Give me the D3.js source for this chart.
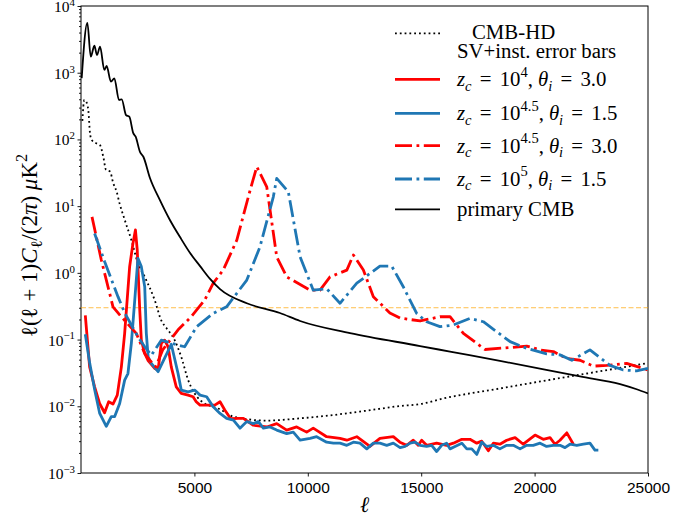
<!DOCTYPE html>
<html>
<head>
<meta charset="utf-8">
<script src="https://cdn.jsdelivr.net/npm/d3@7"></script>
<style>
  body { margin: 0; background: #fff; }
  svg.vis { display: block; font-family: "Liberation Serif", "DejaVu Serif", serif; }
</style>
</head>
<body>
<svg class="vis" width="687" height="518"></svg>
<script>
// values: [ell, l(l+1)C_l/(2pi) in muK^2]
const primary_cmb = [[30,830],[280,5600],[430,1740],[590,2540],[705,1840],[840,2450],[1030,1100],[1130,1260],[1320,733],[1470,822],[1675,390],[1795,398],[1985,232],[2130,219],[2305,124],[2410,110],[2600,65],[2750,55],[3040,26.4],[3480,12.3],[3920,6.2],[4365,3.44],[4810,1.98],[5250,1.26],[5690,0.81],[6130,0.57],[7310,0.35],[8770,0.25],[9660,0.19],[11860,0.125],[14950,0.08],[16270,0.066],[18470,0.048],[22000,0.028],[23770,0.0215],[24500,0.018],[25000,0.0156]];

const cmbhd_err = [[60,190],[146,390],[230,367],[322,275],[397,124],[472,98],[692,87],[838,82],[983,55],[1102,35],[1279,33],[1424,22],[1573,16.4],[1700,11],[1930,6.2],[2220,3.1],[2510,1.4],[2810,0.87],[3250,0.39],[3550,0.19],[3760,0.15],[4130,0.098],[4420,0.055],[4720,0.025],[5250,0.0124],[6190,0.0088],[6720,0.0070],[8190,0.0061],[9660,0.0066],[11130,0.0074],[12600,0.0086],[14070,0.0101],[14950,0.0108],[15980,0.0131],[18470,0.0185],[22300,0.031],[24940,0.044]];

const zc4_th3 = [[190,0.23],[380,0.039],[600,0.0196],[820,0.011],[1040,0.008],[1220,0.0117],[1410,0.0108],[1600,0.0147],[1780,0.039],[1925,0.124],[2145,1.24],[2290,2.75],[2400,4.4],[2480,2.2],[2590,0.28],[2660,0.098],[2810,0.062],[2950,0.049],[3250,0.037],[3400,0.035],[3540,0.088],[3690,0.098],[3840,0.078],[3980,0.039],[4200,0.0196],[4420,0.0156],[4720,0.0147],[4940,0.0139],[5080,0.0117],[5250,0.0104],[5600,0.0104],[5900,0.0104],[6130,0.0117],[6340,0.0088],[6600,0.0065],[6920,0.0066],[7160,0.0066],[7600,0.0052],[8190,0.0049],[8630,0.0055],[9070,0.0044],[9510,0.0049],[9950,0.0041],[10240,0.0047],[10830,0.0035],[11420,0.0033],[11720,0.0031],[12160,0.0035],[12740,0.0025],[13180,0.0033],[13770,0.0035],[14060,0.0029],[14360,0.0026],[14650,0.0031],[14870,0.0026],[15020,0.0031],[15240,0.0026],[15680,0.0028],[16120,0.0026],[16420,0.0028],[16790,0.0032],[17150,0.0032],[17450,0.0028],[17670,0.0030],[17960,0.00215],[18180,0.0028],[18470,0.0027],[18770,0.0031],[19140,0.0034],[19500,0.0027],[20020,0.0037],[20380,0.0032],[20680,0.0034],[20900,0.0027],[21120,0.0031],[21420,0.0040],[21710,0.0027]];

const zc45_th15 = [[190,0.12],[385,0.044],[605,0.0175],[825,0.0078],[1115,0.0050],[1335,0.0070],[1485,0.0070],[1705,0.011],[1925,0.0247],[2070,0.031],[2220,0.088],[2370,0.39],[2510,1.65],[2660,1.24],[2810,0.62],[2880,0.124],[2960,0.055],[3100,0.044],[3400,0.033],[3980,0.085],[4280,0.031],[4420,0.0175],[4720,0.0165],[5010,0.0175],[5250,0.0147],[5540,0.0139],[5830,0.0098],[6130,0.0078],[6420,0.0066],[6720,0.0062],[7010,0.0047],[7310,0.0059],[7600,0.0055],[7820,0.0059],[8040,0.0047],[8330,0.0049],[8630,0.0044],[9070,0.0039],[9360,0.0041],[9660,0.0031],[10100,0.0033],[10390,0.0035],[10830,0.0029],[11130,0.0028],[11420,0.0028],[11720,0.0026],[12010,0.0029],[12300,0.0028],[12600,0.0023],[12890,0.0028],[13180,0.0028],[13480,0.0026],[13770,0.0028],[14070,0.0024],[14290,0.0025],[14510,0.0028],[14730,0.0029],[14950,0.0026],[15240,0.0025],[15460,0.0026],[15680,0.0021],[15900,0.0026],[16120,0.0028],[16270,0.0023],[16490,0.0025],[16790,0.0028],[17010,0.0023],[17230,0.0023],[17450,0.0019],[17670,0.0029],[17890,0.0025],[18180,0.0026],[18470,0.0023],[18770,0.0026],[19060,0.0026],[19360,0.0023],[19650,0.0026],[19940,0.0026],[20240,0.0028],[20530,0.0025],[20820,0.0026],[21120,0.0026],[21340,0.0024],[21560,0.0027],[21860,0.0026],[22150,0.0027],[22440,0.0028],[22660,0.0022],[22810,0.0022]];

const zc45_th3 = [[485,6.9],[896,1.56],[1411,0.31],[1778,0.22],[2438,0.124],[2808,0.062],[3030,0.049],[3300,0.039],[3600,0.07],[4280,0.14],[4860,0.22],[5450,0.39],[5830,0.70],[6270,1.1],[6870,3.1],[7450,17],[7750,39],[8190,19.5],[8630,1.74],[9070,0.87],[10100,0.55],[10540,0.55],[10980,0.87],[11720,1.1],[12010,1.85],[12450,1.1],[12890,0.44],[13620,0.25],[14070,0.21],[14950,0.19],[15830,0.22],[16270,0.22],[16860,0.124],[17810,0.071],[18920,0.076],[19650,0.080],[20240,0.070],[20830,0.066],[21410,0.052],[22000,0.049],[22590,0.040],[23180,0.041],[24060,0.044],[25000,0.035]];

const zc5_th15 = [[600,3.9],[1040,1.48],[1630,0.44],[1930,0.25],[2510,0.11],[2810,0.078],[3100,0.058],[3540,0.098],[3980,0.088],[4570,0.078],[5100,0.156],[5830,0.247],[6420,0.31],[7310,0.78],[7890,2.45],[8480,13.8],[8630,26],[9140,16.4],[9660,1.74],[10240,0.55],[10830,0.58],[11420,0.35],[12160,0.70],[13180,1.26],[13700,1.26],[14210,0.62],[14800,0.247],[15240,0.185],[15830,0.156],[16410,0.165],[17150,0.208],[17740,0.185],[18920,0.093],[19650,0.074],[20530,0.061],[21120,0.059],[21640,0.049],[22440,0.070],[23320,0.041],[23910,0.035],[24500,0.034],[25000,0.037]];

const ref_level = 0.3;

const x_domain = [0, 25000];
const y_domain = [1e-3, 1e4];
const x_ticks = [5000, 10000, 15000, 20000, 25000];
const y_exponents = [-3, -2, -1, 0, 1, 2, 3, 4];

// legend labels as [text, italic, sub/sup, extra space before]
const label_cmbhd = ["CMB-HD", "SV+inst. error bars"];
const label_zc4_th3 = [["z",1],["c",1,"sub"],[" =",0,null,3],[" 10",0,null,3],["4",0,"sup"],[",",0],["θ",1,null,5],["i",1,"sub"],[" =",0,null,3],[" 3.0",0,null,3]];
const label_zc45_th15 = [["z",1],["c",1,"sub"],[" =",0,null,3],[" 10",0,null,3],["4.5",0,"sup"],[",",0],["θ",1,null,5],["i",1,"sub"],[" =",0,null,3],[" 1.5",0,null,3]];
const label_zc45_th3 = [["z",1],["c",1,"sub"],[" =",0,null,3],[" 10",0,null,3],["4.5",0,"sup"],[",",0],["θ",1,null,5],["i",1,"sub"],[" =",0,null,3],[" 3.0",0,null,3]];
const label_zc5_th15 = [["z",1],["c",1,"sub"],[" =",0,null,3],[" 10",0,null,3],["5",0,"sup"],[",",0],["θ",1,null,5],["i",1,"sub"],[" =",0,null,3],[" 1.5",0,null,3]];
const label_primary = [["primary CMB",0]];

const vis = {

    refs: { svg: "svg.vis" },

    sels: { svg: null },

    dims: { left: 81, right: 648, top: 6, bottom: 473 },

    scales: { x: null, y: null },

    styles: {
        cmbhd:     { color: "#000", width: 1.8, dash: "1.8,3" },
        zc4_th3:   { color: "#ff0000", width: 2.8, dash: null },
        zc45_th15: { color: "#1f77b4", width: 2.8, dash: null },
        zc45_th3:  { color: "#ff0000", width: 2.8, dash: "17,4.5,2.8,4.5" },
        zc5_th15:  { color: "#1f77b4", width: 2.8, dash: "17,4.5,2.8,4.5" },
        primary:   { color: "#000", width: 1.8, dash: null }
    },

    init: function() {
        vis.f.generates_refs();
        vis.f.set_scales();
        vis.draw.axes();
        vis.draw.lines();
        vis.draw.legend();
        vis.draw.labels();
    },

    f: {

        generates_refs: function() {
            vis.sels.svg = d3.select(vis.refs.svg);
        },

        set_scales: function() {
            vis.scales.x = d3.scaleLinear().domain(x_domain).range([vis.dims.left, vis.dims.right]);
            vis.scales.y = d3.scaleLog().domain(y_domain).range([vis.dims.bottom, vis.dims.top]);
        },

        // writes a mathtext-like label into a <text> element
        math_text: function(sel, parts, size, sup) {
            let shift = 0;
            let up = sup || 0.45;
            parts.forEach(p => {
                let [t, it, pos, dx] = p;
                let target = pos === "sub" ? size * 0.22 : pos === "sup" ? -size * up : 0;
                sel.append("tspan")
                  .attr("dx", dx || 0)
                  .attr("dy", (target - shift).toFixed(2))
                  .style("font-style", it ? "italic" : "normal")
                  .style("font-size", (pos ? size * 0.7 : size) + "px")
                  .text(t);
                shift = target;
            });
        }
    },

    draw: {

        axes: function() {
            let svg = vis.sels.svg;
            let x = vis.scales.x, y = vis.scales.y, d = vis.dims;

            // x axis
            let gx = svg.append("g")
              .attr("transform", `translate(0,${d.bottom})`)
              .call(d3.axisBottom(x).tickValues(x_ticks).tickSize(3.5).tickPadding(5).tickFormat(d3.format("d")));
            gx.select(".domain").remove();
            gx.selectAll("text").style("font-size", "15.5px").attr("fill", "#000");

            // y minor ticks
            let minors = [];
            for (let e = -3; e < 4; e++) for (let k = 2; k < 10; k++) minors.push(k * Math.pow(10, e));
            let gm = svg.append("g")
              .attr("transform", `translate(${d.left},0)`)
              .call(d3.axisLeft(y).tickValues(minors).tickSize(2).tickFormat(""));
            gm.select(".domain").remove();

            // y major ticks
            let gy = svg.append("g")
              .attr("transform", `translate(${d.left},0)`)
              .call(d3.axisLeft(y).tickValues(y_exponents.map(e => Math.pow(10, e))).tickSize(3.5).tickFormat(""));
            gy.select(".domain").remove();

            y_exponents.forEach(e => {
                let t = svg.append("text")
                  .attr("x", d.left - 6)
                  .attr("y", y(Math.pow(10, e)) + 6)
                  .attr("text-anchor", "end");
                vis.f.math_text(t, [["10", 0], [e < 0 ? "\u2212" + (-e) : String(e), 0, "sup"]], 15.5, 0.4);
            });

            svg.selectAll(".tick line").attr("stroke", "#000").attr("stroke-width", 0.9);

            // frame
            svg.append("rect")
              .attr("x", d.left).attr("y", d.top)
              .attr("width", d.right - d.left).attr("height", d.bottom - d.top)
              .attr("fill", "none").attr("stroke", "#000").attr("stroke-width", 1);

            svg.append("clipPath").attr("id", "plotclip")
              .append("rect")
              .attr("x", d.left).attr("y", d.top)
              .attr("width", d.right - d.left).attr("height", d.bottom - d.top);
        },

        lines: function() {
            let svg = vis.sels.svg;
            let x = vis.scales.x, y = vis.scales.y;
            let plot = svg.append("g").attr("clip-path", "url(#plotclip)");

            let smooth = d3.line().x(p => x(p[0])).y(p => y(p[1])).curve(d3.curveMonotoneX);
            let straight = d3.line().x(p => x(p[0])).y(p => y(p[1]));

            // reference level
            plot.append("line")
              .attr("x1", x(x_domain[0])).attr("x2", x(x_domain[1]))
              .attr("y1", y(ref_level)).attr("y2", y(ref_level))
              .attr("stroke", "orange").attr("stroke-opacity", 0.7)
              .attr("stroke-width", 1).attr("stroke-dasharray", "5,2.5");

            let series = [
                ["cmbhd", cmbhd_err, smooth],
                ["zc4_th3", zc4_th3, straight],
                ["zc45_th15", zc45_th15, straight],
                ["zc45_th3", zc45_th3, straight],
                ["zc5_th15", zc5_th15, straight],
                ["primary", primary_cmb, smooth]
            ];

            series.forEach(s => {
                let st = vis.styles[s[0]];
                plot.append("path")
                  .datum(s[1])
                  .attr("d", s[2])
                  .attr("fill", "none")
                  .attr("stroke", st.color)
                  .attr("stroke-width", st.width)
                  .attr("stroke-dasharray", st.dash)
                  .attr("stroke-linejoin", "round");
            });
        },

        legend: function() {
            let svg = vis.sels.svg;
            let g = svg.append("g");
            let x0 = 395, x1 = 440, tx = 457, size = 20.8;

            let entries = [
                ["cmbhd", 33.3, null],
                ["zc4_th3", 79.3, label_zc4_th3],
                ["zc45_th15", 113.3, label_zc45_th15],
                ["zc45_th3", 145.7, label_zc45_th3],
                ["zc5_th15", 179, label_zc5_th15],
                ["primary", 209.3, label_primary]
            ];

            entries.forEach(e => {
                let st = vis.styles[e[0]];
                g.append("line")
                  .attr("x1", x0).attr("x2", x1).attr("y1", e[1]).attr("y2", e[1])
                  .attr("stroke", st.color).attr("stroke-width", st.width)
                  .attr("stroke-dasharray", st.dash);
                if (e[2]) {
                    let t = g.append("text").attr("x", tx).attr("y", e[1] + 6.8);
                    vis.f.math_text(t, e[2], size);
                }
            });

            g.append("text").attr("x", 472).attr("y", 39)
              .style("font-size", size + "px").text(label_cmbhd[0]);
            g.append("text").attr("x", tx).attr("y", 58)
              .style("font-size", size + "px").text(label_cmbhd[1]);
        },

        labels: function() {
            let svg = vis.sels.svg;
            let d = vis.dims;

            svg.append("text")
              .attr("x", (d.left + d.right) / 2).attr("y", 512)
              .attr("text-anchor", "middle")
              .style("font-size", "22px").style("font-style", "italic")
              .text("\u2113");

            let t = svg.append("text")
              .attr("transform", `translate(37,${(d.top + d.bottom) / 2 + 6}) rotate(-90)`)
              .attr("text-anchor", "middle");
            vis.f.math_text(t, [["\u2113(\u2113 + 1)", 0], ["C", 1], ["\u2113", 0, "sub"], ["/(2", 0], ["\u03c0", 1], [")  ", 0], ["\u03bc", 1], ["K", 0], ["2", 0, "sup"]], 23);
        }
    }
};

vis.init();
</script>
</body>
</html>
